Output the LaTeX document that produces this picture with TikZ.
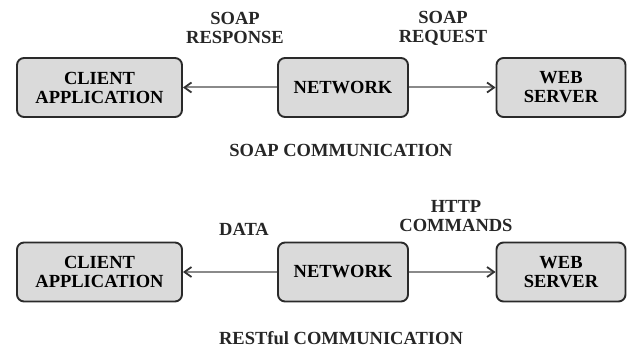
\documentclass[tikz,border=0pt]{standalone}
\usepackage{fontspec}
\setmainfont{Liberation Serif}
\usetikzlibrary{arrows.meta}
\definecolor{boxfill}{HTML}{DADADA}
\definecolor{boxline}{HTML}{2A2A2A}
\definecolor{arrline}{HTML}{8A8A8A}
\begin{document}
\begin{tikzpicture}[x=1pt,y=-1pt,
  blk/.style={draw=boxline, line width=1.9pt, fill=boxfill, rounded corners=7pt,
    minimum height=59pt, align=center, inner sep=0pt,
    font=\fontsize{18.5}{19}\selectfont\bfseries},
  lbl/.style={align=center, inner sep=0pt, font=\fontsize{18.5}{19}\selectfont\bfseries, text=black!85},
  conn/.style={draw=arrline, line width=2pt, -{Straight Barb[length=7pt,width=10pt,line width=1.8pt,color=black!80]}}
]
\useasboundingbox (0,0) rectangle (627,350);
% top row
\node[blk, minimum width=165pt] (c1) at (99.5,87.5) {CLIENT\\APPLICATION};
\node[blk, minimum width=130pt] (n1) at (343,87.5) {NETWORK};
\node[blk, minimum width=129pt] (w1) at (561,87.5) {WEB\\SERVER};
\draw[conn] (n1) -- (c1);
\draw[conn] (n1) -- (w1);
\node[lbl] (l1) at (235,28) {SOAP\\RESPONSE};
\node[lbl] (l2) at (443,28) {SOAP\\REQUEST};
\node[lbl] (t1) at (341,150) {SOAP COMMUNICATION};
% bottom row
\node[blk, minimum width=165pt] (c2) at (99.5,272) {CLIENT\\APPLICATION};
\node[blk, minimum width=130pt] (n2) at (343,272) {NETWORK};
\node[blk, minimum width=129pt] (w2) at (561,272) {WEB\\SERVER};
\draw[conn] (n2) -- (c2);
\draw[conn] (n2) -- (w2);
\node[lbl] (l3) at (244,229) {DATA};
\node[lbl] (l4) at (456,216) {HTTP\\COMMANDS};
\node[lbl] (t2) at (341,338) {RESTful COMMUNICATION};
\end{tikzpicture}
\end{document}
